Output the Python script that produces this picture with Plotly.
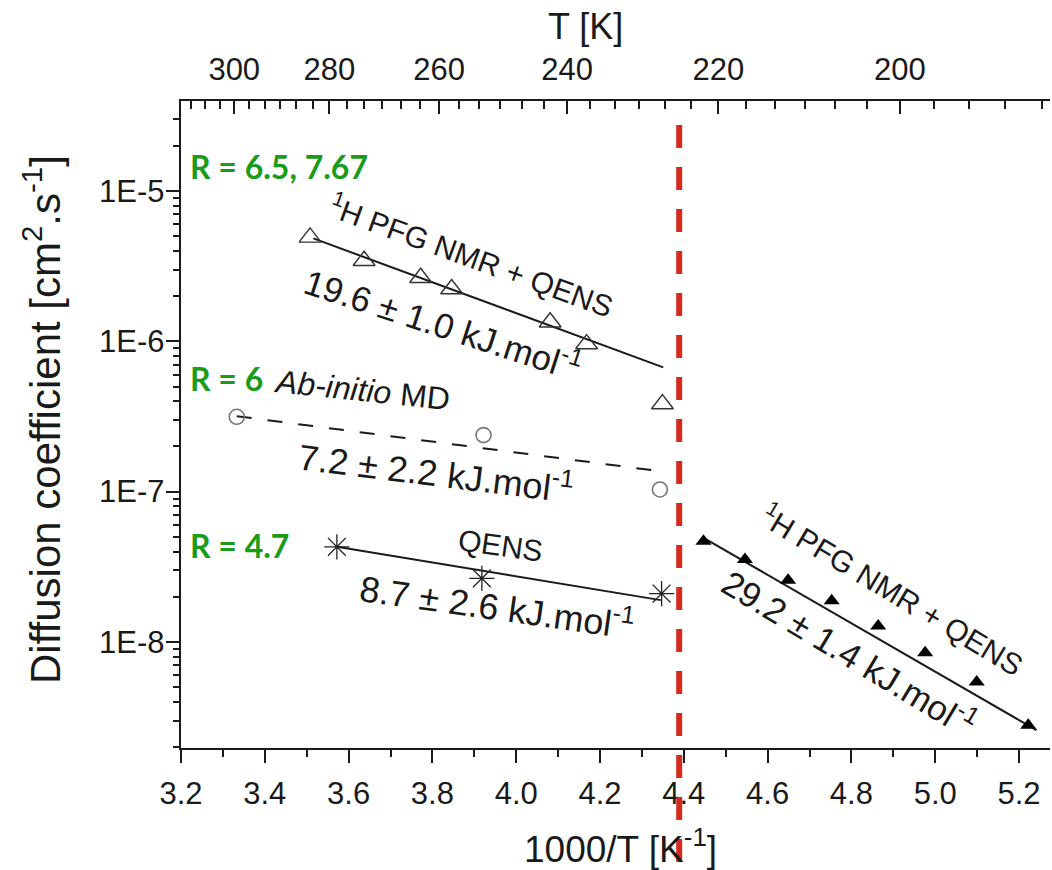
import math
import plotly.graph_objects as go

# ---------------- data (1000/T in K^-1, D in cm^2/s) ----------------
nmr_hi_x = [3.508, 3.637, 3.772, 3.846, 4.081, 4.168, 4.349]
nmr_hi_y = [4.92e-6, 3.44e-6, 2.65e-6, 2.23e-6, 1.34e-6, 9.6e-7, 3.83e-7]
nmr_hi_fit_x = [3.516, 4.351]
nmr_hi_fit_y = [4.84e-6, 6.71e-7]

md_x = [3.333, 3.922, 4.343]
md_y = [3.15e-7, 2.38e-7, 1.035e-7]
md_fit_x = [3.333, 4.350]
md_fit_y = [3.18e-7, 1.36e-7]

qens_x = [3.572, 3.918, 4.347]
qens_y = [4.30e-8, 2.65e-8, 2.10e-8]
qens_fit_x = [3.572, 4.345]
qens_fit_y = [4.30e-8, 1.90e-8]

nmr_lo_x = [4.447, 4.546, 4.649, 4.753, 4.864, 4.976, 5.099, 5.222]
nmr_lo_y = [4.69e-8, 3.54e-8, 2.58e-8, 1.88e-8, 1.28e-8, 8.48e-9, 5.43e-9, 2.80e-9]
nmr_lo_fit_x = [4.443, 5.242]
nmr_lo_fit_y = [5.01e-8, 2.59e-9]

y_major = [1e-8, 1e-7, 1e-6, 1e-5]
y_major_text = ["1E-8", "1E-7", "1E-6", "1E-5"]
top_T_major = [300, 280, 260, 240, 220, 200]
transition_x = 4.389

# ---------------- layout constants ----------------
W, H = 1052, 870
ML, MR, MT, MB = 181, 2, 101, 122
XMIN, XMAX = 3.2, 5.274
TOPMIN, TOPMAX = 3.2, 5.376
YMIN, YMAX = -8.705, -4.401
FONT = "Liberation Sans, Arial, sans-serif"
INK = "#1a1a1a"
GREEN = "#1a9c1a"
RED = "#d42b1e"
TICKSIZE = 31

y_minor = [m * 10.0 ** e for e in range(-9, -3) for m in range(2, 10)
           if YMIN <= math.log10(m * 10.0 ** e) <= YMAX]
top_T_minor = []
k = 0
while True:
    T = 180 + k * 10.0 / 3.0
    k += 1
    if T > 320:
        break
    if abs(T / 20.0 - round(T / 20.0)) < 1e-6:
        continue
    if TOPMIN <= 1000.0 / T <= TOPMAX:
        top_T_minor.append(T)

pw = W - ML - MR
ph = H - MT - MB


def px_x(p):
    return (p - ML) / pw


def px_y(p):
    return (H - MB - p) / ph


fig = go.Figure()

# fit lines
fig.add_trace(go.Scatter(x=nmr_hi_fit_x, y=nmr_hi_fit_y, mode="lines",
                         line=dict(color=INK, width=2), showlegend=False))
fig.add_trace(go.Scatter(x=md_fit_x, y=md_fit_y, mode="lines",
                         line=dict(color=INK, width=2, dash="15px,16px"), showlegend=False))
fig.add_trace(go.Scatter(x=qens_fit_x, y=qens_fit_y, mode="lines",
                         line=dict(color=INK, width=2), showlegend=False))
fig.add_trace(go.Scatter(x=nmr_lo_fit_x, y=nmr_lo_fit_y, mode="lines",
                         line=dict(color=INK, width=2), showlegend=False))

# markers
fig.add_trace(go.Scatter(x=nmr_hi_x, y=nmr_hi_y, mode="markers",
                         marker=dict(symbol="triangle-up-open", size=19, color="#333333",
                                     line=dict(width=1.4)), showlegend=False))
fig.add_trace(go.Scatter(x=md_x, y=md_y, mode="markers",
                         marker=dict(symbol="circle-open", size=15, color="#777777",
                                     line=dict(width=1.6)), showlegend=False))
fig.add_trace(go.Scatter(x=qens_x, y=qens_y, mode="markers",
                         marker=dict(symbol="asterisk-open", size=21, color="#222222",
                                     line=dict(width=1.3, color="#222222")), showlegend=False))
fig.add_trace(go.Scatter(x=nmr_lo_x, y=nmr_lo_y, mode="markers",
                         marker=dict(symbol="triangle-up", size=14, color="#000000"),
                         showlegend=False))

# empty traces to activate overlay axes
fig.add_trace(go.Scatter(x=[None], y=[None], xaxis="x2", yaxis="y", showlegend=False, hoverinfo="skip"))
fig.add_trace(go.Scatter(x=[None], y=[None], xaxis="x3", yaxis="y", showlegend=False, hoverinfo="skip"))
fig.add_trace(go.Scatter(x=[None], y=[None], xaxis="x", yaxis="y2", showlegend=False, hoverinfo="skip"))

fig.update_layout(
    width=W, height=H,
    margin=dict(l=ML, r=MR, t=MT, b=MB),
    paper_bgcolor="white", plot_bgcolor="white",
    showlegend=False,
    font=dict(family=FONT, size=TICKSIZE, color=INK),
    xaxis=dict(range=[XMIN, XMAX], tick0=3.2, dtick=0.2, tickformat=".1f",
               ticks="outside", ticklen=13, tickwidth=2, tickcolor=INK,
               minor=dict(dtick=0.1, tick0=3.2, ticks="outside", ticklen=7, tickwidth=2, tickcolor=INK),
               showline=True, linewidth=2, linecolor=INK, showgrid=False, zeroline=False,
               tickfont=dict(family=FONT, size=TICKSIZE, color=INK), ticklabelstandoff=4),
    xaxis2=dict(overlaying="x", side="top", anchor="y", range=[TOPMIN, TOPMAX],
                tickmode="array", tickvals=[1000.0 / t for t in top_T_major],
                ticktext=[str(t) for t in top_T_major],
                ticks="inside", ticklen=13, tickwidth=2, tickcolor=INK,
                showline=True, linewidth=2, linecolor=INK, showgrid=False, zeroline=False,
                tickfont=dict(family=FONT, size=TICKSIZE, color=INK), ticklabelstandoff=7),
    xaxis3=dict(overlaying="x", side="top", anchor="y", range=[TOPMIN, TOPMAX],
                tickmode="array", tickvals=[1000.0 / t for t in top_T_minor],
                ticks="inside", ticklen=8, tickwidth=2, tickcolor=INK,
                showticklabels=False, showline=False, showgrid=False, zeroline=False),
    yaxis=dict(type="log", range=[YMIN, YMAX], tickmode="array",
               tickvals=y_major, ticktext=y_major_text, showticklabels=False,
               ticks="outside", ticklen=13, tickwidth=2, tickcolor=INK,
               showline=True, linewidth=2, linecolor=INK, showgrid=False, zeroline=False),
    yaxis2=dict(type="log", overlaying="y", side="left", anchor="x", range=[YMIN, YMAX],
                tickmode="array", tickvals=y_minor,
                ticks="outside", ticklen=7, tickwidth=2, tickcolor=INK,
                showticklabels=False, showline=False, showgrid=False, zeroline=False),
)

# y tick labels placed on the y scale, right-aligned just beyond the ticks
for val, txt in zip(y_major, y_major_text):
    fig.add_annotation(text=txt, xref="paper", yref="y", x=px_x(166), y=math.log10(val),
                       xanchor="right", yanchor="middle", showarrow=False,
                       font=dict(family=FONT, size=TICKSIZE, color=INK))

# transition line
xp = (transition_x - XMIN) / (XMAX - XMIN)
fig.add_shape(type="line", xref="paper", yref="paper", x0=xp, x1=xp,
              y0=px_y(125), y1=px_y(872), layer="above",
              line=dict(color=RED, width=6, dash="23px,19px"))

# axis titles
fig.add_annotation(text="1000/T [K<sup>-1</sup>]", xref="paper", yref="paper",
                   x=px_x(620), y=px_y(846), xanchor="center", yanchor="middle", showarrow=False,
                   font=dict(family=FONT, size=37, color=INK))
fig.add_annotation(text="T [K]", xref="paper", yref="paper",
                   x=px_x(585), y=px_y(27), xanchor="center", yanchor="middle", showarrow=False,
                   font=dict(family=FONT, size=36, color=INK))
fig.add_annotation(text="Diffusion coefficient [cm<sup>2</sup>.s<sup>-1</sup>]", xref="paper", yref="paper",
                   x=px_x(42), y=px_y(420), xanchor="center", yanchor="middle",
                   showarrow=False, textangle=-90,
                   font=dict(family=FONT, size=42, color=INK))

# green labels
for txt, ly in [("R = 6.5, 7.67", -4.840), ("R = 6", -6.244), ("R = 4.7", -7.355)]:
    fig.add_annotation(text="<b>" + txt + "</b>", x=3.2167, y=ly, xanchor="left", yanchor="middle",
                       showarrow=False, font=dict(family="Lato, sans-serif", size=32, color=GREEN))

# series labels
labels = [
    ("<i>Ab-initio</i> MD", 3.632, -6.324, 6, 32),
    ("<sup>1</sup>H PFG NMR + QENS", 3.8945, -5.426, 20, 30),
    ("19.6 ± 1.0 kJ.mol<sup>-1</sup>", 3.826, -5.880, 18, 35),
    ("7.2 ± 2.2 kJ.mol<sup>-1</sup>", 3.808, -6.861, 7, 36),
    ("QENS", 3.963, -7.360, 8, 30),
    ("8.7 ± 2.6 kJ.mol<sup>-1</sup>", 3.955, -7.754, 8, 36),
    ("<sup>1</sup>H PFG NMR + QENS", 4.898, -7.650, 31, 30),
    ("29.2 ± 1.4 kJ.mol<sup>-1</sup>", 4.797, -8.065, 31, 35),
]
for txt, lx, ly, ang, fs in labels:
    fig.add_annotation(text=txt, x=lx, y=ly, textangle=ang, showarrow=False,
                       xanchor="center", yanchor="middle",
                       font=dict(family=FONT, size=fs, color=INK))

fig.write_html("out.html")
